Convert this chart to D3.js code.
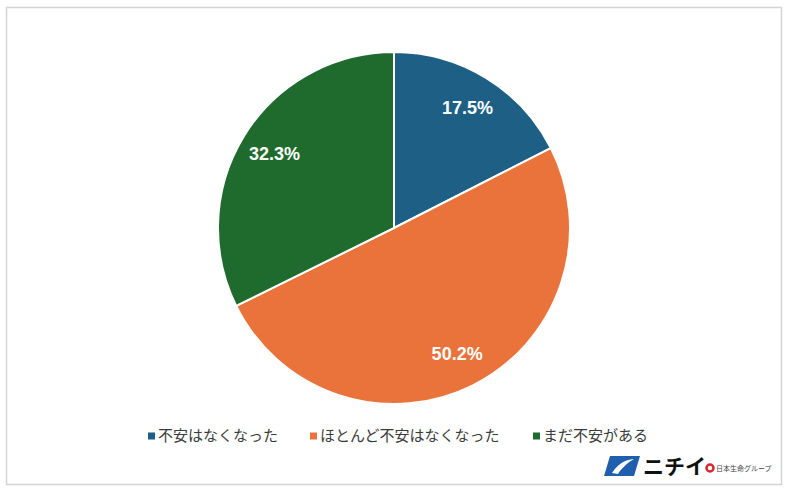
<!DOCTYPE html>
<html>
<head>
<meta charset="utf-8">
<script src="https://cdn.jsdelivr.net/npm/d3@7"></script>
<style>
  body { margin: 0; background: #fff; }
  svg text { font-family: "Liberation Sans", Arial, "Noto Sans CJK JP", sans-serif; }
</style>
</head>
<body>
<div id="chart"></div>
<script>
// Data
let categories = ["不安はなくなった", "ほとんど不安はなくなった", "まだ不安がある"];
let values = [17.5, 50.2, 32.3];
let colors = ["#1e5f85", "#e9733a", "#1f6b2d"];

let width = 788;
let height = 492;
let cx = 394;
let cy = 228;
let radius = 176;

let svg = d3
  .select("#chart")
  .append("svg")
  .attr("width", width)
  .attr("height", height);

// frame
svg
  .append("rect")
  .attr("x", 6.5)
  .attr("y", 7.5)
  .attr("width", 775)
  .attr("height", 477)
  .attr("fill", "#fff")
  .attr("stroke", "#d4d4d4")
  .attr("stroke-width", 1.5);

// pie
let pie = d3.pie().sort(null).value(d => d);
let arcs = pie(values);
let arc = d3.arc().innerRadius(0).outerRadius(radius);
let labelArc = d3.arc().innerRadius(radius * 0.8).outerRadius(radius * 0.8);

let g = svg.append("g").attr("transform", `translate(${cx}, ${cy})`);

g.selectAll(".slice")
  .data(arcs)
  .enter()
  .append("path")
  .attr("class", "slice")
  .attr("d", arc)
  .attr("fill", (d, i) => colors[i])
  .attr("stroke", "#fff")
  .attr("stroke-width", 2);

g.selectAll(".label")
  .data(arcs)
  .enter()
  .append("text")
  .attr("class", "label")
  .attr("transform", d => `translate(${labelArc.centroid(d)})`)
  .attr("text-anchor", "middle")
  .attr("dy", "0.36em")
  .attr("fill", "#fff")
  .style("font-size", "18px")
  .style("font-weight", "bold")
  .text(d => d.data.toFixed(1) + "%");

// legend
let legendX = [148, 310, 533];
let legend = svg
  .selectAll(".legend")
  .data(categories)
  .enter()
  .append("g")
  .attr("class", "legend")
  .attr("transform", (d, i) => `translate(${legendX[i]}, 436)`);

legend
  .append("rect")
  .attr("x", 0)
  .attr("y", -3.5)
  .attr("width", 7)
  .attr("height", 7)
  .attr("fill", (d, i) => colors[i]);

legend
  .append("text")
  .attr("x", 10)
  .attr("dy", "0.36em")
  .attr("fill", "#3a3a3a")
  .style("font-size", "15px")
  .style("font-family", "'Noto Sans CJK JP', sans-serif")
  .text(d => d);

// logo
let logo = svg.append("g").attr("transform", "translate(604, 456)");
logo
  .append("path")
  .attr("d", "M6,0 L36,0 L30,20 L0,20 Z")
  .attr("fill", "#1f5fae");
logo
  .append("path")
  .attr("d", "M8,17 C14,8 20,4 30,3 C22,8 18,12 14,18 Z")
  .attr("fill", "#fff");
logo
  .append("text")
  .attr("x", 39)
  .attr("y", 18)
  .attr("fill", "#111")
  .style("font-size", "21px")
  .style("font-weight", "bold")
  .style("font-family", "'Noto Sans CJK JP', sans-serif")
  .text("ニチイ");
logo
  .append("circle")
  .attr("cx", 106)
  .attr("cy", 12)
  .attr("r", 3.5)
  .attr("fill", "none")
  .attr("stroke", "#d7282f")
  .attr("stroke-width", 2.5);
logo
  .append("text")
  .attr("x", 112)
  .attr("y", 15)
  .attr("fill", "#444")
  .style("font-size", "7px")
  .style("font-family", "'Noto Sans CJK JP', sans-serif")
  .text("日本生命グループ");
</script>
</body>
</html>
